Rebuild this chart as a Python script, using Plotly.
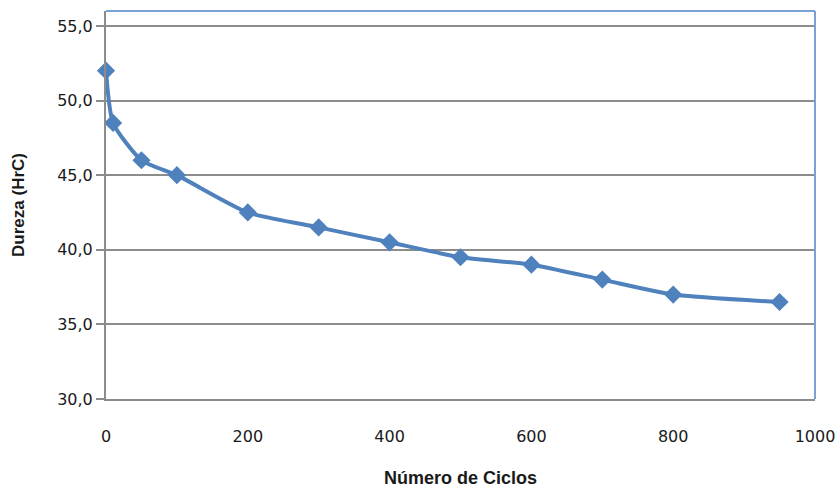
import plotly.graph_objects as go

# Hardness vs. number of cycles
ciclos = [0, 10, 50, 100, 200, 300, 400, 500, 600, 700, 800, 950]
dureza = [52.0, 48.5, 46.0, 45.0, 42.5, 41.5, 40.5, 39.5, 39.0, 38.0, 37.0, 36.5]

x_ticks = [0, 200, 400, 600, 800, 1000]
y_ticks = [30, 35, 40, 45, 50, 55]
y_tick_text = [f"{v:.1f}".replace(".", ",") for v in y_ticks]

blue = "#4F81BD"
grid = "#8C8C8C"
tick_font = dict(family="DejaVu Sans", size=16, color="#1a1a1a")
x_title_font = dict(family="Liberation Sans", size=18, color="#1a1a1a")
y_title_font = dict(family="Liberation Sans", size=17, color="#1a1a1a")

fig = go.Figure()
fig.add_trace(go.Scatter(
    x=ciclos, y=dureza, mode="lines+markers",
    line=dict(color=blue, width=4, shape="spline", smoothing=0.6),
    marker=dict(symbol="diamond", size=14, color=blue),
    showlegend=False, cliponaxis=False,
))

fig.update_layout(
    width=840, height=488,
    margin=dict(l=106, r=25, t=11, b=89),
    paper_bgcolor="white", plot_bgcolor="white",
    xaxis=dict(
        range=[0, 1000], tickvals=x_ticks, ticks="", showgrid=False,
        showline=True, linecolor=grid, linewidth=2, zeroline=False,
        tickfont=tick_font, ticklabelstandoff=22, automargin=False,
        title=dict(text="<b>Número de Ciclos</b>", font=x_title_font, standoff=26),
    ),
    yaxis=dict(
        range=[30, 56], tickvals=y_ticks, ticktext=y_tick_text,
        ticks="outside", ticklen=8, tickcolor=grid, tickwidth=1.5,
        showgrid=True, gridcolor=grid, gridwidth=1.5,
        showline=True, linecolor=grid, linewidth=2, zeroline=False,
        tickfont=tick_font, automargin=False,
        title=dict(text="<b>Dureza (HrC)</b>", font=y_title_font, standoff=28),
    ),
    shapes=[
        dict(type="line", xref="paper", yref="paper", x0=0, x1=1, y0=1, y1=1,
             line=dict(color="#7BA2D6", width=2)),
        dict(type="line", xref="paper", yref="paper", x0=1, x1=1, y0=0, y1=1,
             line=dict(color="#7BA2D6", width=2)),
    ],
)

fig.write_html("out.html")
